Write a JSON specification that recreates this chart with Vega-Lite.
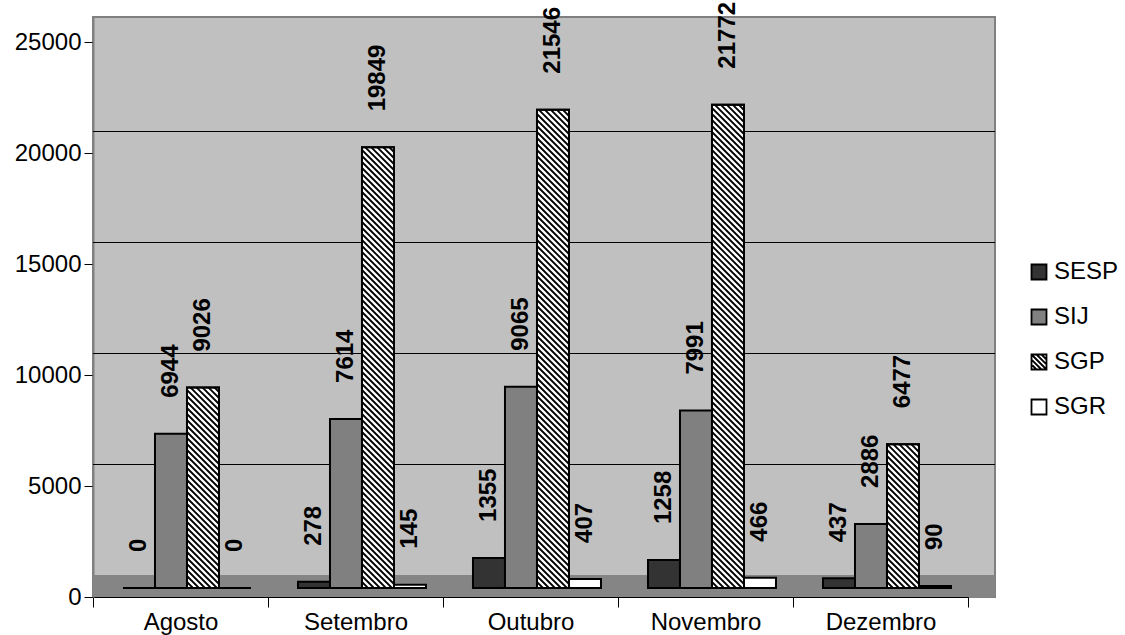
{
  "$schema": "https://vega.github.io/schema/vega-lite/v6.json",
  "width": 902,
  "height": 580,
  "autosize": "none",
  "padding": {"left": 93, "top": 17, "right": 130, "bottom": 38},
  "background": "#ffffff",
  "config": {
    "font": "Liberation Sans",
    "view": {"fill": "#c0c0c0", "stroke": "#808080", "strokeWidth": 2}
  },
  "data": {
    "values": [
      {"mes": "Agosto", "serie": "SESP", "valor": 0},
      {"mes": "Agosto", "serie": "SIJ", "valor": 6944},
      {"mes": "Agosto", "serie": "SGP", "valor": 9026},
      {"mes": "Agosto", "serie": "SGR", "valor": 0},
      {"mes": "Setembro", "serie": "SESP", "valor": 278},
      {"mes": "Setembro", "serie": "SIJ", "valor": 7614},
      {"mes": "Setembro", "serie": "SGP", "valor": 19849},
      {"mes": "Setembro", "serie": "SGR", "valor": 145},
      {"mes": "Outubro", "serie": "SESP", "valor": 1355},
      {"mes": "Outubro", "serie": "SIJ", "valor": 9065},
      {"mes": "Outubro", "serie": "SGP", "valor": 21546},
      {"mes": "Outubro", "serie": "SGR", "valor": 407},
      {"mes": "Novembro", "serie": "SESP", "valor": 1258},
      {"mes": "Novembro", "serie": "SIJ", "valor": 7991},
      {"mes": "Novembro", "serie": "SGP", "valor": 21772},
      {"mes": "Novembro", "serie": "SGR", "valor": 466},
      {"mes": "Dezembro", "serie": "SESP", "valor": 437},
      {"mes": "Dezembro", "serie": "SIJ", "valor": 2886},
      {"mes": "Dezembro", "serie": "SGP", "valor": 6477},
      {"mes": "Dezembro", "serie": "SGR", "valor": 90}
    ]
  },
  "layer": [
    {
      "data": {"values": [{}]},
      "mark": {"type": "rect", "color": "#858585"},
      "encoding": {
        "y": {"datum": 0, "type": "quantitative"},
        "y2": {"datum": 990}
      }
    },
    {
      "data": {"values": [{"nivel": 5000}, {"nivel": 10000}, {"nivel": 15000}, {"nivel": 20000}]},
      "mark": {"type": "rule", "color": "#000000", "strokeWidth": 1, "yOffset": -21.5},
      "encoding": {
        "y": {"field": "nivel", "type": "quantitative"}
      }
    },
    {
      "mark": {"type": "bar", "stroke": "#000000", "strokeWidth": 2, "yOffset": -9, "y2Offset": -9},
      "encoding": {
        "x": {
          "field": "mes", "type": "nominal",
          "sort": ["Agosto", "Setembro", "Outubro", "Novembro", "Dezembro"],
          "scale": {"range": [0, 875], "paddingInner": 0, "paddingOuter": 0},
          "axis": {
            "title": null, "labelAngle": 0, "labelFontSize": 24, "labelColor": "#000000",
            "labelPadding": 3, "tickBand": "extent", "tickSize": 10, "tickColor": "#000000",
            "domainColor": "#000000", "domainWidth": 1, "grid": false
          }
        },
        "xOffset": {
          "field": "serie", "type": "nominal",
          "scale": {"domain": ["SESP", "SIJ", "SGP", "SGR"], "paddingInner": 0, "paddingOuter": 0.734375, "align": 0.638}
        },
        "y": {
          "field": "valor", "type": "quantitative", "stack": null,
          "scale": {"domain": [0, 26126.126], "nice": false},
          "axis": {
            "title": null, "values": [0, 5000, 10000, 15000, 20000, 25000], "format": "d",
            "labelFontSize": 24, "labelColor": "#000000", "tickSize": 9, "tickColor": "#000000",
            "labelPadding": 3, "domainColor": "#808080", "domainWidth": 2, "grid": false
          }
        },
        "y2": {"datum": 0},
        "fill": {
          "field": "serie", "type": "nominal",
          "scale": {"domain": ["SESP", "SIJ", "SGP", "SGR"], "range": ["#333333", "#808080", "#ffffff", "#ffffff"]},
          "legend": {
            "orient": "none", "legendX": 934, "legendY": 243, "title": null,
            "symbolType": "square", "symbolSize": 225, "symbolStrokeColor": "#000000",
            "symbolStrokeWidth": 1.8, "symbolOpacity": 1,
            "labelFontSize": 24, "labelColor": "#000000", "labelOffset": 3, "rowPadding": 21,
            "encode": {
              "symbols": {
                "update": {
                  "shape": {"signal": "datum.value === 'SGP' ? 'M-1,-1H1V1H-1ZM0.33,-1L1,-0.33M-0.33,-1L1,0.33M-1,-1L1,1M-1,-0.33L0.33,1M-1,0.33L-0.33,1' : 'square'"}
                }
              }
            }
          }
        }
      }
    },
    {
      "transform": [{"filter": "datum.serie === 'SGP'"}],
      "mark": {"type": "point", "size": 4, "filled": false, "stroke": "#000000", "strokeWidth": 1.8, "opacity": 1, "yOffset": -9},
      "encoding": {
        "x": {"field": "mes", "type": "nominal", "sort": ["Agosto", "Setembro", "Outubro", "Novembro", "Dezembro"]},
        "xOffset": {"field": "serie", "type": "nominal"},
        "y": {"datum": 0, "type": "quantitative"},
        "shape": {
          "field": "mes", "type": "nominal", "legend": null,
          "scale": {
            "domain": ["Agosto", "Setembro", "Outubro", "Novembro", "Dezembro"],
            "range": [
              "M-16,-6L-10,0M-16,-12L-4,0M-16,-18L2,0M-16,-24L8,0M-16,-30L14,0M-16,-36L16,-4M-16,-42L16,-10M-16,-48L16,-16M-16,-54L16,-22M-16,-60L16,-28M-16,-66L16,-34M-16,-72L16,-40M-16,-78L16,-46M-16,-84L16,-52M-16,-90L16,-58M-16,-96L16,-64M-16,-102L16,-70M-16,-108L16,-76M-16,-114L16,-82M-16,-120L16,-88M-16,-126L16,-94M-16,-132L16,-100M-16,-138L16,-106M-16,-144L16,-112M-16,-150L16,-118M-16,-156L16,-124M-16,-162L16,-130M-16,-168L16,-136M-16,-174L16,-142M-16,-180L16,-148M-16,-186L16,-154M-16,-192L16,-160M-16,-198L16,-166M-12.38,-200.38L16,-172M-6.38,-200.38L16,-178M-0.38,-200.38L16,-184M5.62,-200.38L16,-190M11.62,-200.38L16,-196",
              "M-16,-6L-10,0M-16,-12L-4,0M-16,-18L2,0M-16,-24L8,0M-16,-30L14,0M-16,-36L16,-4M-16,-42L16,-10M-16,-48L16,-16M-16,-54L16,-22M-16,-60L16,-28M-16,-66L16,-34M-16,-72L16,-40M-16,-78L16,-46M-16,-84L16,-52M-16,-90L16,-58M-16,-96L16,-64M-16,-102L16,-70M-16,-108L16,-76M-16,-114L16,-82M-16,-120L16,-88M-16,-126L16,-94M-16,-132L16,-100M-16,-138L16,-106M-16,-144L16,-112M-16,-150L16,-118M-16,-156L16,-124M-16,-162L16,-130M-16,-168L16,-136M-16,-174L16,-142M-16,-180L16,-148M-16,-186L16,-154M-16,-192L16,-160M-16,-198L16,-166M-16,-204L16,-172M-16,-210L16,-178M-16,-216L16,-184M-16,-222L16,-190M-16,-228L16,-196M-16,-234L16,-202M-16,-240L16,-208M-16,-246L16,-214M-16,-252L16,-220M-16,-258L16,-226M-16,-264L16,-232M-16,-270L16,-238M-16,-276L16,-244M-16,-282L16,-250M-16,-288L16,-256M-16,-294L16,-262M-16,-300L16,-268M-16,-306L16,-274M-16,-312L16,-280M-16,-318L16,-286M-16,-324L16,-292M-16,-330L16,-298M-16,-336L16,-304M-16,-342L16,-310M-16,-348L16,-316M-16,-354L16,-322M-16,-360L16,-328M-16,-366L16,-334M-16,-372L16,-340M-16,-378L16,-346M-16,-384L16,-352M-16,-390L16,-358M-16,-396L16,-364M-16,-402L16,-370M-16,-408L16,-376M-16,-414L16,-382M-16,-420L16,-388M-16,-426L16,-394M-16,-432L16,-400M-16,-438L16,-406M-12.65,-440.65L16,-412M-6.65,-440.65L16,-418M-0.65,-440.65L16,-424M5.35,-440.65L16,-430M11.35,-440.65L16,-436",
              "M-16,-6L-10,0M-16,-12L-4,0M-16,-18L2,0M-16,-24L8,0M-16,-30L14,0M-16,-36L16,-4M-16,-42L16,-10M-16,-48L16,-16M-16,-54L16,-22M-16,-60L16,-28M-16,-66L16,-34M-16,-72L16,-40M-16,-78L16,-46M-16,-84L16,-52M-16,-90L16,-58M-16,-96L16,-64M-16,-102L16,-70M-16,-108L16,-76M-16,-114L16,-82M-16,-120L16,-88M-16,-126L16,-94M-16,-132L16,-100M-16,-138L16,-106M-16,-144L16,-112M-16,-150L16,-118M-16,-156L16,-124M-16,-162L16,-130M-16,-168L16,-136M-16,-174L16,-142M-16,-180L16,-148M-16,-186L16,-154M-16,-192L16,-160M-16,-198L16,-166M-16,-204L16,-172M-16,-210L16,-178M-16,-216L16,-184M-16,-222L16,-190M-16,-228L16,-196M-16,-234L16,-202M-16,-240L16,-208M-16,-246L16,-214M-16,-252L16,-220M-16,-258L16,-226M-16,-264L16,-232M-16,-270L16,-238M-16,-276L16,-244M-16,-282L16,-250M-16,-288L16,-256M-16,-294L16,-262M-16,-300L16,-268M-16,-306L16,-274M-16,-312L16,-280M-16,-318L16,-286M-16,-324L16,-292M-16,-330L16,-298M-16,-336L16,-304M-16,-342L16,-310M-16,-348L16,-316M-16,-354L16,-322M-16,-360L16,-328M-16,-366L16,-334M-16,-372L16,-340M-16,-378L16,-346M-16,-384L16,-352M-16,-390L16,-358M-16,-396L16,-364M-16,-402L16,-370M-16,-408L16,-376M-16,-414L16,-382M-16,-420L16,-388M-16,-426L16,-394M-16,-432L16,-400M-16,-438L16,-406M-16,-444L16,-412M-16,-450L16,-418M-16,-456L16,-424M-16,-462L16,-430M-16,-468L16,-436M-16,-474L16,-442M-14.32,-478.32L16,-448M-8.32,-478.32L16,-454M-2.32,-478.32L16,-460M3.68,-478.32L16,-466M9.68,-478.32L16,-472",
              "M-16,-6L-10,0M-16,-12L-4,0M-16,-18L2,0M-16,-24L8,0M-16,-30L14,0M-16,-36L16,-4M-16,-42L16,-10M-16,-48L16,-16M-16,-54L16,-22M-16,-60L16,-28M-16,-66L16,-34M-16,-72L16,-40M-16,-78L16,-46M-16,-84L16,-52M-16,-90L16,-58M-16,-96L16,-64M-16,-102L16,-70M-16,-108L16,-76M-16,-114L16,-82M-16,-120L16,-88M-16,-126L16,-94M-16,-132L16,-100M-16,-138L16,-106M-16,-144L16,-112M-16,-150L16,-118M-16,-156L16,-124M-16,-162L16,-130M-16,-168L16,-136M-16,-174L16,-142M-16,-180L16,-148M-16,-186L16,-154M-16,-192L16,-160M-16,-198L16,-166M-16,-204L16,-172M-16,-210L16,-178M-16,-216L16,-184M-16,-222L16,-190M-16,-228L16,-196M-16,-234L16,-202M-16,-240L16,-208M-16,-246L16,-214M-16,-252L16,-220M-16,-258L16,-226M-16,-264L16,-232M-16,-270L16,-238M-16,-276L16,-244M-16,-282L16,-250M-16,-288L16,-256M-16,-294L16,-262M-16,-300L16,-268M-16,-306L16,-274M-16,-312L16,-280M-16,-318L16,-286M-16,-324L16,-292M-16,-330L16,-298M-16,-336L16,-304M-16,-342L16,-310M-16,-348L16,-316M-16,-354L16,-322M-16,-360L16,-328M-16,-366L16,-334M-16,-372L16,-340M-16,-378L16,-346M-16,-384L16,-352M-16,-390L16,-358M-16,-396L16,-364M-16,-402L16,-370M-16,-408L16,-376M-16,-414L16,-382M-16,-420L16,-388M-16,-426L16,-394M-16,-432L16,-400M-16,-438L16,-406M-16,-444L16,-412M-16,-450L16,-418M-16,-456L16,-424M-16,-462L16,-430M-16,-468L16,-436M-16,-474L16,-442M-16,-480L16,-448M-13.34,-483.34L16,-454M-7.34,-483.34L16,-460M-1.34,-483.34L16,-466M4.66,-483.34L16,-472M10.66,-483.34L16,-478",
              "M-16,-6L-10,0M-16,-12L-4,0M-16,-18L2,0M-16,-24L8,0M-16,-30L14,0M-16,-36L16,-4M-16,-42L16,-10M-16,-48L16,-16M-16,-54L16,-22M-16,-60L16,-28M-16,-66L16,-34M-16,-72L16,-40M-16,-78L16,-46M-16,-84L16,-52M-16,-90L16,-58M-16,-96L16,-64M-16,-102L16,-70M-16,-108L16,-76M-16,-114L16,-82M-16,-120L16,-88M-16,-126L16,-94M-16,-132L16,-100M-16,-138L16,-106M-15.79,-143.79L16,-112M-9.79,-143.79L16,-118M-3.79,-143.79L16,-124M2.21,-143.79L16,-130M8.21,-143.79L16,-136M14.21,-143.79L16,-142"
            ]
          }
        }
      }
    },
    {
      "transform": [{"filter": "datum.serie === 'SGP'"}],
      "mark": {"type": "bar", "fillOpacity": 0, "stroke": "#000000", "strokeWidth": 2, "yOffset": -9, "y2Offset": -9},
      "encoding": {
        "x": {"field": "mes", "type": "nominal", "sort": ["Agosto", "Setembro", "Outubro", "Novembro", "Dezembro"]},
        "xOffset": {"field": "serie", "type": "nominal"},
        "y": {"field": "valor", "type": "quantitative", "stack": null},
        "y2": {"datum": 0}
      }
    },
    {
      "mark": {"type": "text", "angle": 270, "align": "left", "baseline": "middle", "dx": 45, "fontSize": 24, "fontWeight": "bold", "color": "#000000"},
      "encoding": {
        "x": {"field": "mes", "type": "nominal", "sort": ["Agosto", "Setembro", "Outubro", "Novembro", "Dezembro"]},
        "xOffset": {"field": "serie", "type": "nominal"},
        "y": {"field": "valor", "type": "quantitative"},
        "text": {"field": "valor", "type": "quantitative", "format": "d"}
      }
    }
  ]
}
